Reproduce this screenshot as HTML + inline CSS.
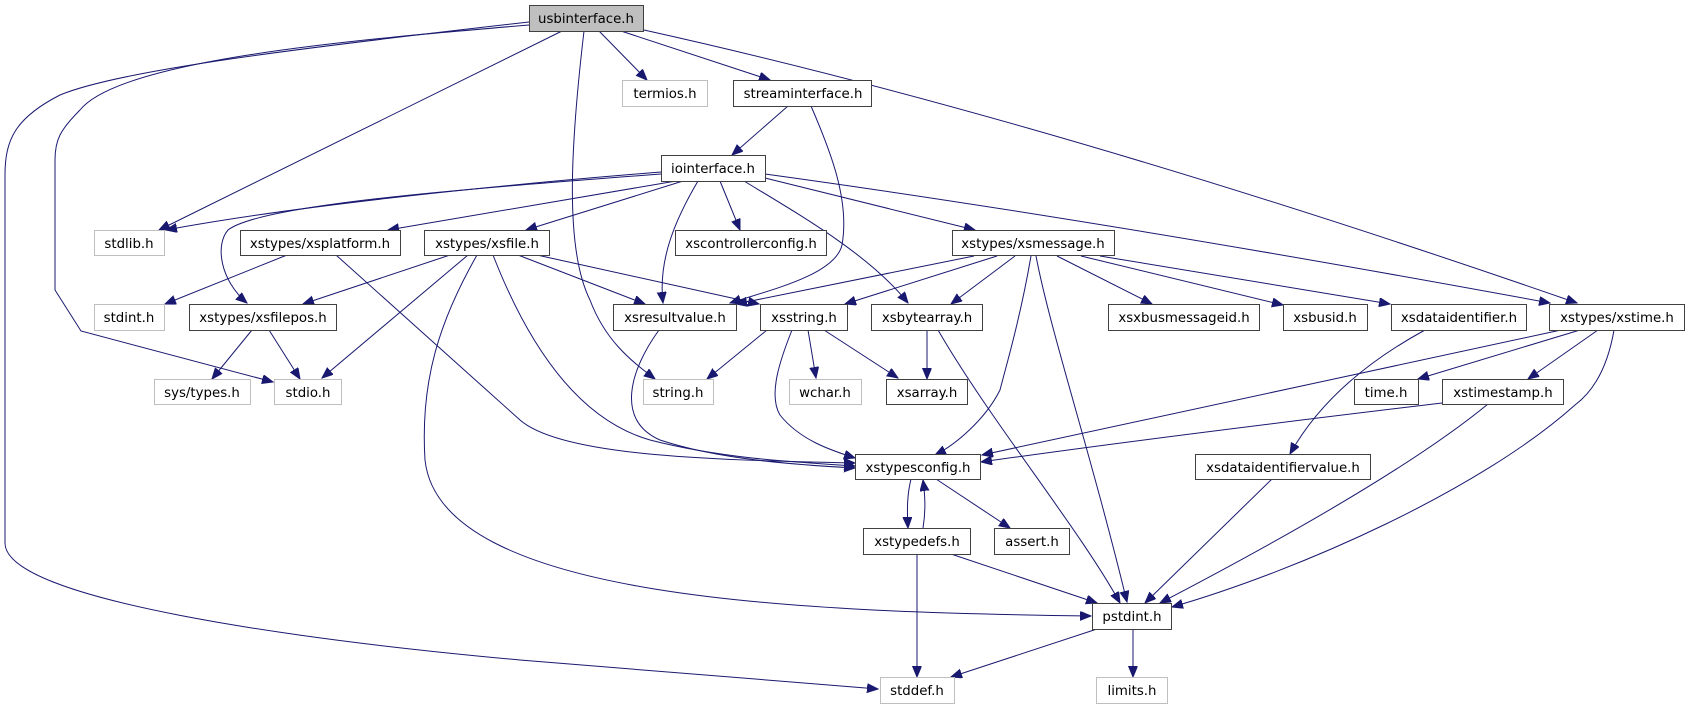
<!DOCTYPE html>
<html><head><meta charset="utf-8"><style>
html,body{margin:0;padding:0;background:#fff;}
svg{display:block;}
text{font-family:"DejaVu Sans","Liberation Sans",sans-serif;font-size:13.33px;fill:#000;text-anchor:middle;}
.n{fill:#fff;stroke:#404040;stroke-width:1;}
.g{fill:#fff;stroke:#bfbfbf;stroke-width:1;}
.e{fill:none;stroke:#191970;stroke-width:1;marker-end:url(#a);}
</style></head><body>
<svg width="1690" height="709" viewBox="0 0 1690 709" xmlns="http://www.w3.org/2000/svg">
<defs><marker id="a" markerUnits="userSpaceOnUse" markerWidth="12" markerHeight="10" refX="11" refY="4.5" orient="auto"><path d="M0,0 L11,4.5 L0,9 z" fill="#191970" stroke="#191970"/></marker></defs>
<g>
<path class="e" d="M529,22 C300,48 120,70 60,95 C15,118 5,140 5,175 L5,543 C5,600 300,640 520,660 L878,689"/>
<path class="e" d="M529,25 C350,40 120,60 80,110 C60,130 55,140 55,160 L55,290 L81,331 L273,382"/>
<path class="e" d="M562,31 L159,230"/>
<path class="e" d="M584,31 C570,150 565,250 590,300 C605,340 630,360 655,379"/>
<path class="e" d="M599,31 L647,80"/>
<path class="e" d="M621,31 L770,80"/>
<path class="e" d="M644,30 Q1050,120 1577,303"/>
<path class="e" d="M788,106 L732,155"/>
<path class="e" d="M811,106 C830,150 850,200 842,245 C835,275 770,290 730,303"/>
<path class="e" d="M661,172 C500,185 300,205 166,230"/>
<path class="e" d="M661,174 C450,190 260,205 228,230 C215,245 220,280 247,303"/>
<path class="e" d="M676,181 L388,230"/>
<path class="e" d="M683,181 L526,230"/>
<path class="e" d="M698,181 C675,220 658,260 663,303"/>
<path class="e" d="M720,181 L740,230"/>
<path class="e" d="M744,181 C800,215 870,255 908,303"/>
<path class="e" d="M765,178 L975,230"/>
<path class="e" d="M765,174 Q1100,220 1550,303"/>
<path class="e" d="M287,255 L165,304"/>
<path class="e" d="M336,255 L520,420 C560,455 700,460 855,463"/>
<path class="e" d="M450,255 L303,304"/>
<path class="e" d="M468,255 L322,378"/>
<path class="e" d="M477,255 C440,320 420,380 425,460 C440,600 800,612 1091,616"/>
<path class="e" d="M493,255 C530,350 580,420 650,440 C720,458 790,462 855,466"/>
<path class="e" d="M518,255 L645,304"/>
<path class="e" d="M537,255 L759,304"/>
<path class="e" d="M252,330 L212,379"/>
<path class="e" d="M269,330 L300,379"/>
<path class="e" d="M659,330 C630,370 615,420 660,440 C720,460 800,465 855,468"/>
<path class="e" d="M767,330 L707,379"/>
<path class="e" d="M792,330 C780,360 768,395 780,415 C800,440 830,450 855,458"/>
<path class="e" d="M808,330 L816,378"/>
<path class="e" d="M824,330 L898,378"/>
<path class="e" d="M974,256 L736,304"/>
<path class="e" d="M997,256 L845,304"/>
<path class="e" d="M1015,256 L951,304"/>
<path class="e" d="M1031,256 C1020,320 1005,370 1000,390 C985,420 955,445 935,455"/>
<path class="e" d="M1036,256 C1050,330 1090,450 1127,602"/>
<path class="e" d="M1057,256 L1152,304"/>
<path class="e" d="M1081,256 L1283,305"/>
<path class="e" d="M1100,256 L1390,304"/>
<path class="e" d="M927,330 L927,379"/>
<path class="e" d="M938,330 C990,420 1080,530 1120,603"/>
<path class="e" d="M1425,330 C1370,360 1320,400 1290,454"/>
<path class="e" d="M1561,330 L982,455"/>
<path class="e" d="M1580,330 L1418,379"/>
<path class="e" d="M1598,330 L1528,379"/>
<path class="e" d="M1614,330 C1608,365 1595,390 1575,405 C1480,490 1300,570 1172,607"/>
<path class="e" d="M1442,403 C1300,420 1100,445 981,462"/>
<path class="e" d="M1488,404 C1420,460 1300,530 1160,603"/>
<path class="e" d="M1272,479 L1145,603"/>
<path class="e" d="M911,479 C907,495 907,510 908,528"/>
<path class="e" d="M936,479 L1010,528"/>
<path class="e" d="M923,528 C926,510 925,495 923,480"/>
<path class="e" d="M917,554 L917,677"/>
<path class="e" d="M951,554 L1097,603"/>
<path class="e" d="M1097,629 L951,677"/>
<path class="e" d="M1133,629 L1133,677"/>
</g>
<g>
<rect x="529.5" y="5.5" width="114" height="26" fill="#bfbfbf" stroke="#404040"/><text x="586" y="23">usbinterface.h</text>
<rect class="g" x="622.5" y="80.5" width="85" height="26"/><text x="665" y="98">termios.h</text>
<rect class="n" x="733.5" y="80.5" width="138" height="26"/><text x="803" y="98">streaminterface.h</text>
<rect class="n" x="661.5" y="155.5" width="104" height="26"/><text x="713" y="173">iointerface.h</text>
<rect class="g" x="94.5" y="230.5" width="70" height="25"/><text x="129" y="248">stdlib.h</text>
<rect class="n" x="240.5" y="230.5" width="160" height="25"/><text x="320" y="248">xstypes/xsplatform.h</text>
<rect class="n" x="424.5" y="230.5" width="125" height="25"/><text x="487" y="248">xstypes/xsfile.h</text>
<rect class="n" x="675.5" y="230.5" width="151" height="25"/><text x="751" y="248">xscontrollerconfig.h</text>
<rect class="n" x="952.5" y="230.5" width="162" height="25"/><text x="1033" y="248">xstypes/xsmessage.h</text>
<rect class="g" x="94.5" y="304.5" width="70" height="26"/><text x="129" y="322">stdint.h</text>
<rect class="n" x="189.5" y="304.5" width="147" height="26"/><text x="263" y="322">xstypes/xsfilepos.h</text>
<rect class="n" x="613.5" y="304.5" width="123" height="26"/><text x="675" y="322">xsresultvalue.h</text>
<rect class="n" x="760.5" y="304.5" width="87" height="26"/><text x="804" y="322">xsstring.h</text>
<rect class="n" x="871.5" y="304.5" width="111" height="26"/><text x="927" y="322">xsbytearray.h</text>
<rect class="n" x="1108.5" y="304.5" width="151" height="26"/><text x="1184" y="322">xsxbusmessageid.h</text>
<rect class="n" x="1283.5" y="304.5" width="84" height="26"/><text x="1325" y="322">xsbusid.h</text>
<rect class="n" x="1391.5" y="304.5" width="135" height="26"/><text x="1459" y="322">xsdataidentifier.h</text>
<rect class="n" x="1549.5" y="304.5" width="135" height="26"/><text x="1617" y="322">xstypes/xstime.h</text>
<rect class="g" x="154.5" y="379.5" width="96" height="25"/><text x="202" y="397">sys/types.h</text>
<rect class="g" x="274.5" y="379.5" width="67" height="25"/><text x="308" y="397">stdio.h</text>
<rect class="g" x="643.5" y="379.5" width="70" height="25"/><text x="678" y="397">string.h</text>
<rect class="g" x="789.5" y="379.5" width="72" height="25"/><text x="825" y="397">wchar.h</text>
<rect class="n" x="886.5" y="379.5" width="81" height="25"/><text x="927" y="397">xsarray.h</text>
<rect class="n" x="1354.5" y="379.5" width="64" height="25"/><text x="1386" y="397">time.h</text>
<rect class="n" x="1442.5" y="379.5" width="121" height="25"/><text x="1503" y="397">xstimestamp.h</text>
<rect class="n" x="855.5" y="454.5" width="125" height="25"/><text x="918" y="472">xstypesconfig.h</text>
<rect class="n" x="1195.5" y="454.5" width="175" height="25"/><text x="1283" y="472">xsdataidentifiervalue.h</text>
<rect class="n" x="863.5" y="528.5" width="107" height="26"/><text x="917" y="546">xstypedefs.h</text>
<rect class="n" x="994.5" y="528.5" width="75" height="26"/><text x="1032" y="546">assert.h</text>
<rect class="n" x="1092.5" y="603.5" width="79" height="26"/><text x="1132" y="621">pstdint.h</text>
<rect class="g" x="880.5" y="677.5" width="74" height="26"/><text x="917" y="695">stddef.h</text>
<rect class="g" x="1096.5" y="677.5" width="71" height="26"/><text x="1132" y="695">limits.h</text>
</g>
</svg>
</body></html>
